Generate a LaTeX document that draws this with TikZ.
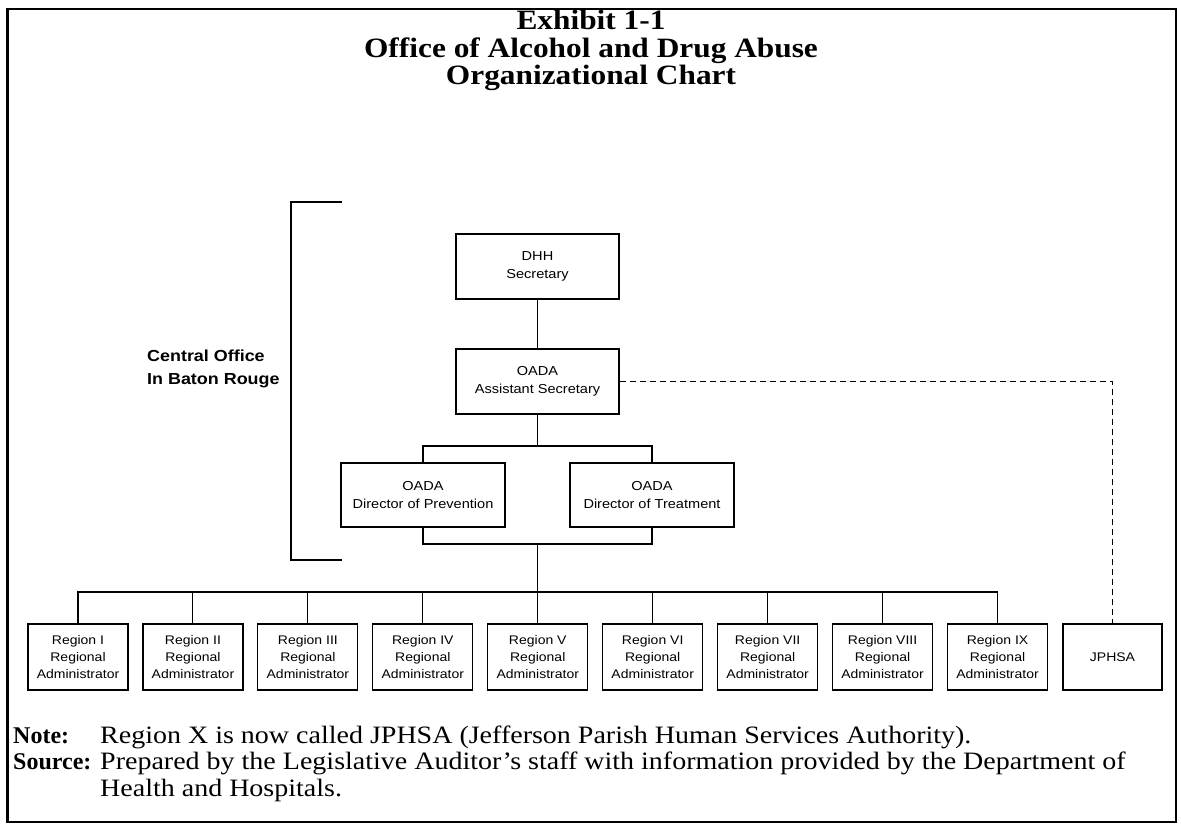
\documentclass[tikz,border=0pt]{standalone}
\usepackage{fontspec}
\setmainfont{Liberation Serif}[FakeStretch=1.12]
\setsansfont{Liberation Sans}[FakeStretch=1.12]
\newfontfamily\labelserif{Liberation Serif}
\begin{document}
\begin{tikzpicture}[x=1pt,y=-1pt,
  frame/.style={line width=2pt},
  conn/.style={line width=1.1pt},
  dashconn/.style={line width=1.1pt, dash pattern=on 6pt off 4pt},
  bigbox/.style={draw, line width=1.2pt, align=center, inner sep=0pt,
    minimum width=163pt, minimum height=65pt,
    font=\sffamily\fontsize{13}{18}\selectfont},
  regbox/.style={draw, line width=1.2pt, align=center, inner sep=0pt,
    minimum width=100pt, minimum height=66pt,
    font=\sffamily\fontsize{12.5}{17}\selectfont},
  titletext/.style={font=\bfseries\fontsize{28}{22}\selectfont, align=center, inner sep=0pt},
  notetext/.style={font=\fontsize{25}{27}\selectfont, anchor=base west, inner sep=0pt},
  notelabel/.style={font=\labelserif\bfseries\fontsize{24}{27}\selectfont, anchor=base west, inner sep=0pt},
  labeltext/.style={font=\sffamily\bfseries\fontsize{16}{23}\selectfont, align=left, anchor=west, inner sep=0pt}
]
\useasboundingbox (0,0) rectangle (1181,824);
% frame
\draw[frame] (7,9) -- (1176,9) -- (1176,822) -- (7,822) -- cycle;
\draw[line width=3pt] (7,8) -- (7,823);

% titles
\node[titletext, anchor=base] (t1) at (591,30) {Exhibit 1-1};
\node[titletext] (t2) at (591,64) {Office of Alcohol and Drug Abuse\\Organizational Chart};

% bracket
\coordinate (bt) at (342,202);
\coordinate (bb) at (342,560);
\draw[conn] (bt) -- (291,202) -- (291,560) -- (bb);
\node[labeltext] (co) at (147,369) {Central Office\\In Baton Rouge};

% central boxes
\node[bigbox] (dhh) at (537.5,266.5) {DHH\\Secretary};
\node[bigbox] (asst) at (537.5,381.5) {OADA\\Assistant Secretary};
\node[bigbox, minimum width=164pt, minimum height=64pt] (prev) at (423,495) {OADA\\Director of Prevention};
\node[bigbox, minimum width=164pt, minimum height=64pt] (treat) at (652,495) {OADA\\Director of Treatment};

\draw[conn] (dhh.south) -- (asst.north);
\coordinate (f1) at (537.5,446);
\draw[conn] (asst.south) -- (f1);
\draw[conn] (prev.north) |- (f1) -| (treat.north);
\coordinate (f2) at (537.5,544);
\draw[conn] (prev.south) |- (f2) -| (treat.south);

% regions
\foreach \i/\r in {1/I,2/II,3/III,4/IV,5/V,6/VI,7/VII,8/VIII,9/IX}{
  \node[regbox] (r\i) at ({78+114.94*(\i-1)},657) {Region \r\\Regional\\Administrator};
}
\node[regbox, minimum width=99pt] (jp) at (1112.5,657) {JPHSA};

\coordinate (bus) at (537.5,592);
\draw[conn] (f2) -- (bus);
\draw[conn] (r1.north) |- (bus) -| (r9.north);
\foreach \i in {2,...,8}{
  \draw[conn] (r\i.north) -- (r\i.north |- bus);
}

% dashed
\coordinate (dc) at (jp.north |- asst.east);
\draw[dashconn] (asst.east) -- (dc) -- (jp.north);

% notes
\node[notelabel] (nl) at (13,743) {Note:};
\node[notetext] (nt) at (100,743) {Region X is now called JPHSA (Jefferson Parish Human Services Authority).};
\node[notelabel] (sl) at (13,769) {Source:};
\node[notetext] (st) at (100,769) {Prepared by the Legislative Auditor's staff with information provided by the Department of};
\node[notetext] (st2) at (100,796) {Health and Hospitals.};
\end{tikzpicture}
\end{document}
